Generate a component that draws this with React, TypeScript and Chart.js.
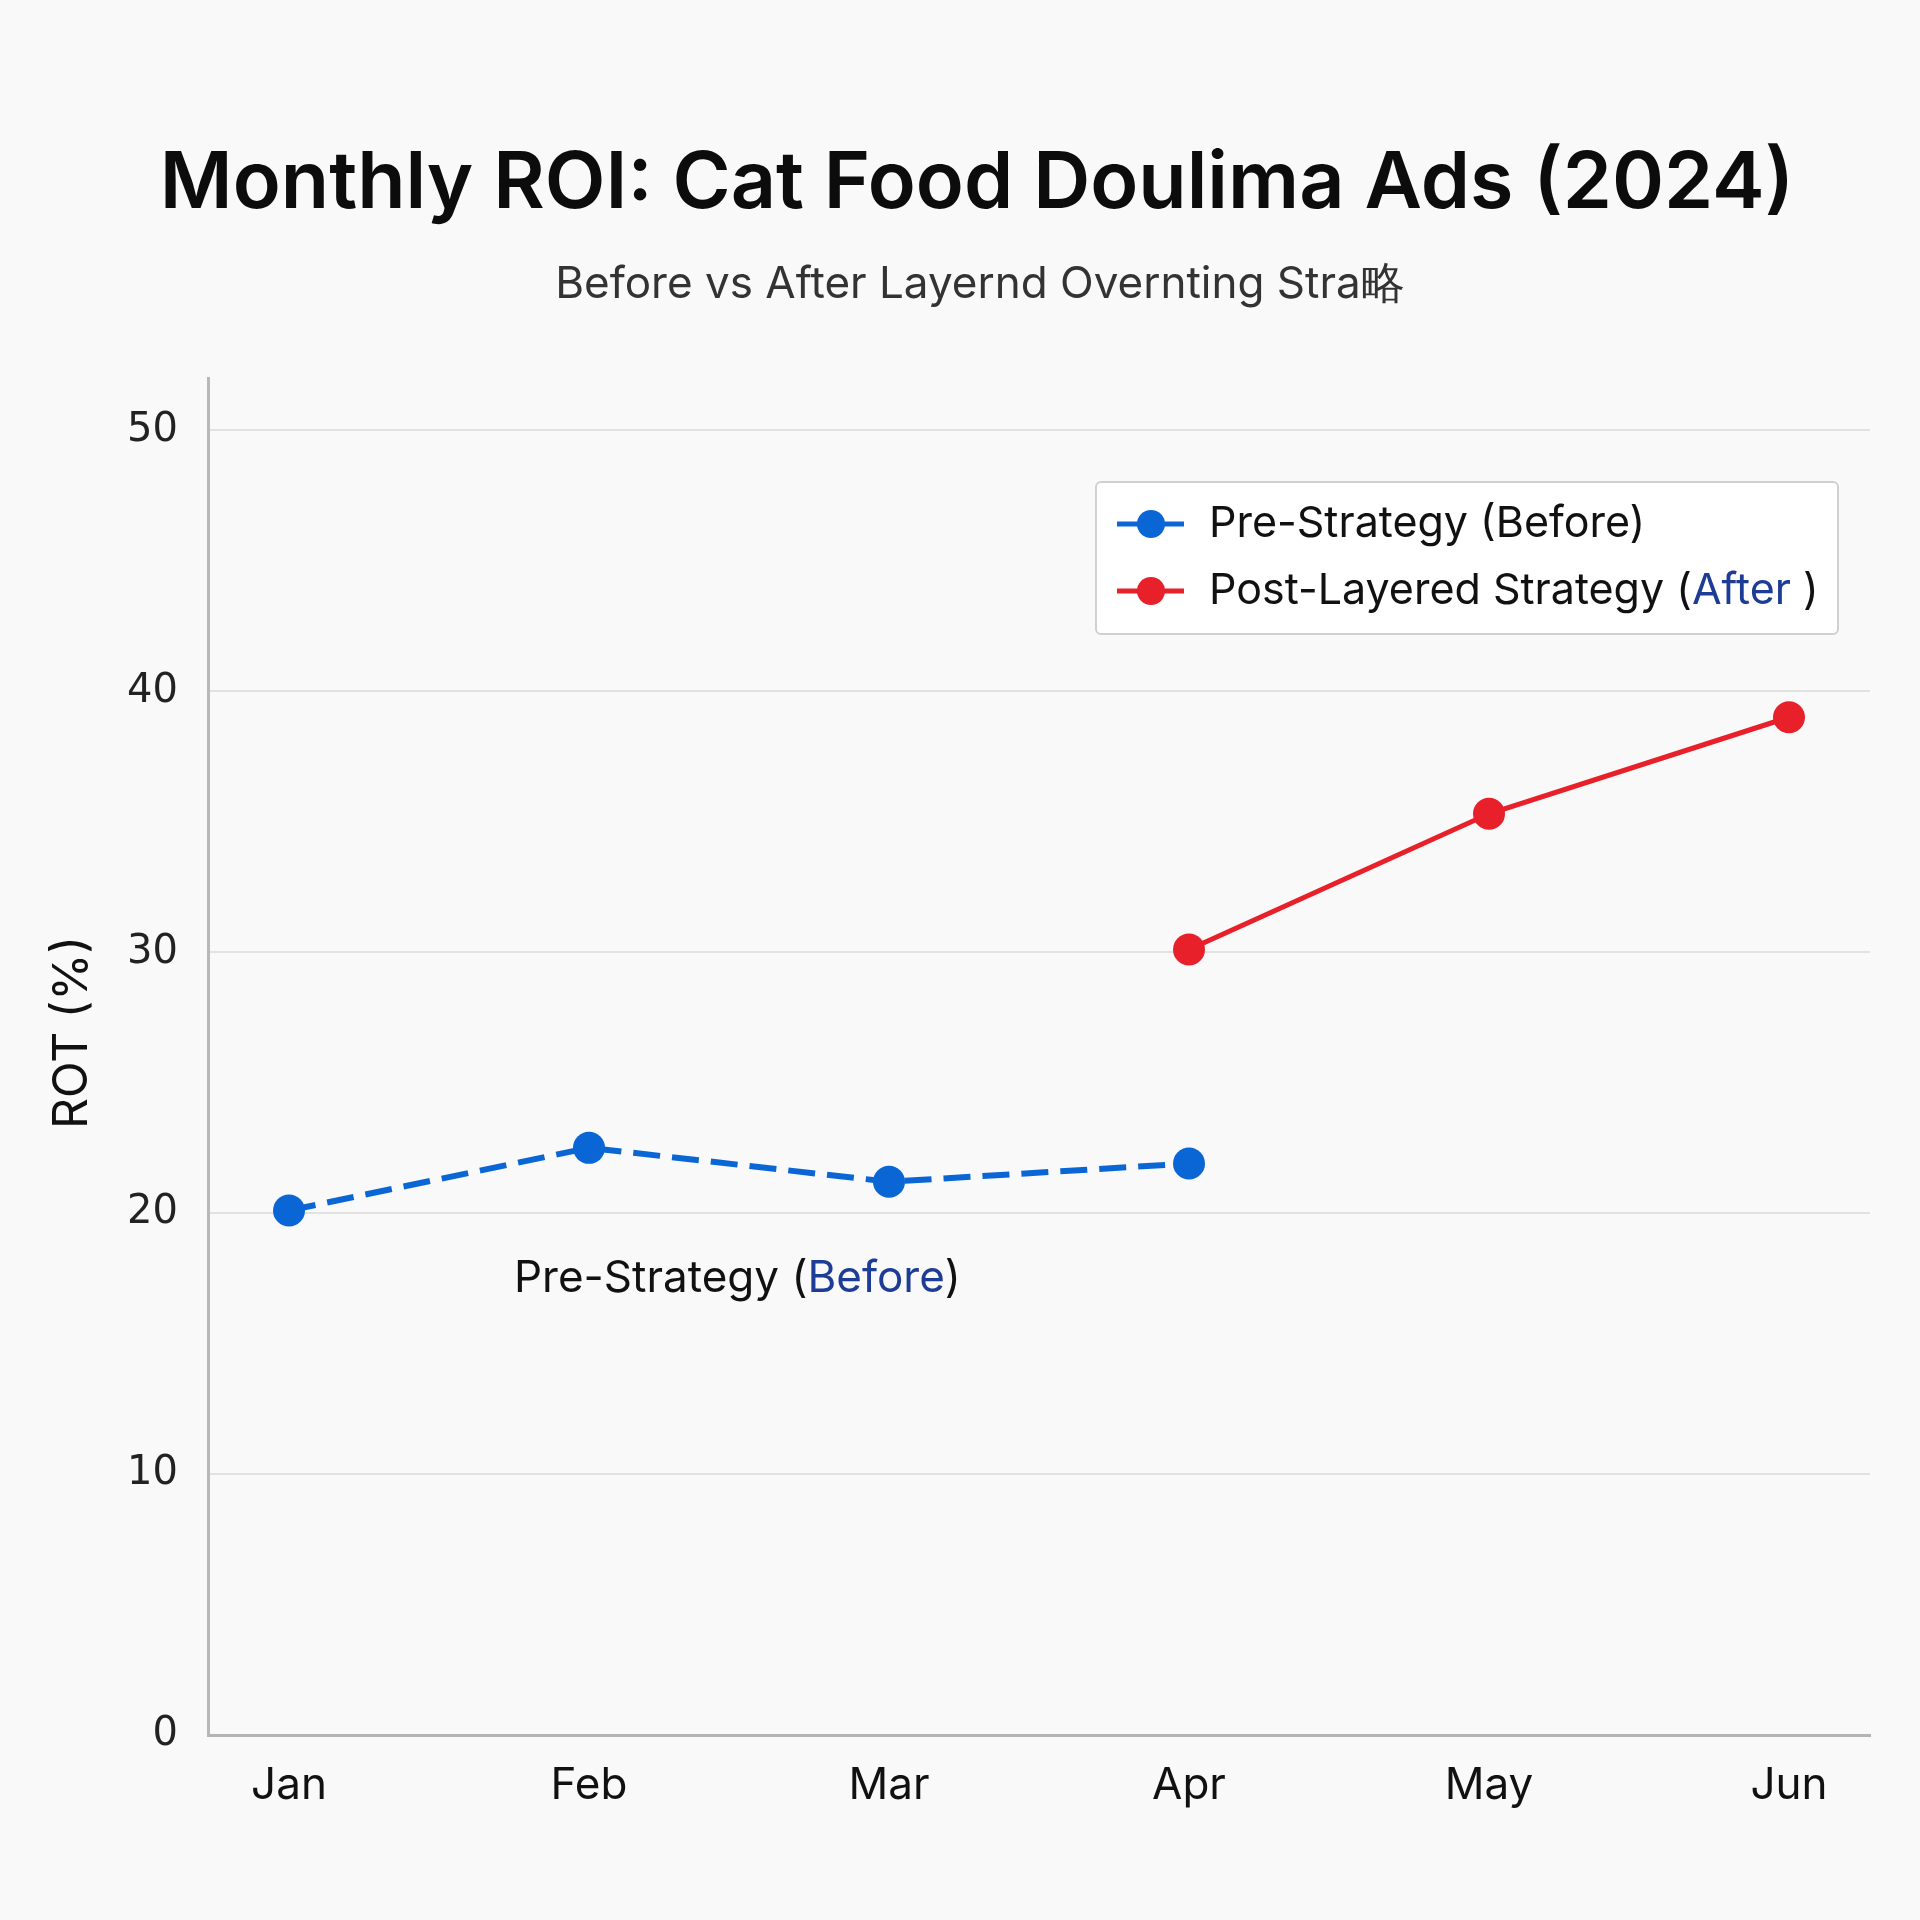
import React, { useEffect, useRef } from "react";
import { Chart, registerables } from "chart.js";

Chart.register(...registerables);

// Monthly ROI (%) before and after the layered strategy
const months = ["Jan", "Feb", "Mar", "Apr", "May", "Jun"];
const preStrategyRoi: (number | null)[] = [20.1, 22.5, 21.2, 21.9, null, null];
const postStrategyRoi: (number | null)[] = [null, null, null, 30.1, 35.3, 39.0];
const yTickValues = [0, 10, 20, 30, 40, 50];

const titleText = "Monthly ROI: Cat Food Doulima Ads (2024)";
const subtitleText = "Before vs After Layernd Overnting Stra略";
const yAxisTitle = "ROT (%)";

const BLUE = "#0a66d4";
const RED = "#e8202a";
const ACCENT_TEXT = "#1d3c96";
const TEXT_FONT = "Inter, 'Noto Sans', sans-serif";

type Segment = { text: string; color: string };

const legendRows: { color: string; segments: Segment[] }[] = [
  {
    color: BLUE,
    segments: [{ text: "Pre-Strategy (Before)", color: "#111" }],
  },
  {
    color: RED,
    segments: [
      { text: "Post-Layered Strategy (", color: "#111" },
      { text: "After", color: ACCENT_TEXT },
      { text: " )", color: "#111" },
    ],
  },
];

const noteSegments: Segment[] = [
  { text: "Pre-Strategy (", color: "#111" },
  { text: "Before", color: ACCENT_TEXT },
  { text: ")", color: "#111" },
];
const notePosition = { x: 0.75, y: 17.5 };

const toPoints = (values: (number | null)[]) =>
  values
    .map((v, i) => (v == null ? null : { x: i, y: v }))
    .filter((p): p is { x: number; y: number } => p !== null);

function drawSegments(ctx: CanvasRenderingContext2D, segs: Segment[], x: number, y: number) {
  let cx = x;
  for (const s of segs) {
    ctx.fillStyle = s.color;
    ctx.fillText(s.text, cx, y);
    cx += ctx.measureText(s.text).width;
  }
}

// Heading, subtitle and rotated y-axis caption
const headingPlugin = {
  id: "roiHeading",
  afterDraw(chart: any) {
    const { ctx, chartArea } = chart;
    ctx.save();
    ctx.textAlign = "center";
    ctx.textBaseline = "middle";
    ctx.fillStyle = "#0c0c0c";
    ctx.font = `600 79px ${TEXT_FONT}`;
    ctx.fillText(titleText, 977, 184);
    ctx.fillStyle = "#333";
    ctx.font = `400 44px ${TEXT_FONT}`;
    ctx.fillText(subtitleText, 980, 285);

    ctx.translate(73, (chartArea.top + chartArea.bottom) / 2 - 24);
    ctx.rotate(-Math.PI / 2);
    ctx.fillStyle = "#111";
    ctx.font = `400 48px ${TEXT_FONT}`;
    ctx.fillText(yAxisTitle, 0, 0);
    ctx.restore();
  },
};

const notePlugin = {
  id: "preStrategyNote",
  afterDatasetsDraw(chart: any) {
    const { ctx, scales } = chart;
    const px = scales.x.getPixelForValue(notePosition.x);
    const py = scales.y.getPixelForValue(notePosition.y);
    ctx.save();
    ctx.font = `400 44px ${TEXT_FONT}`;
    ctx.textBaseline = "middle";
    ctx.textAlign = "left";
    drawSegments(ctx, noteSegments, px, py);
    ctx.restore();
  },
};

const legendPlugin = {
  id: "roiLegend",
  afterDraw(chart: any) {
    const { ctx, chartArea } = chart;
    const w = 742;
    const h = 152;
    const right = chartArea.right - 32;
    const left = right - w;
    const top = chartArea.top + 104;
    ctx.save();
    ctx.beginPath();
    ctx.roundRect(left, top, w, h, 5);
    ctx.fillStyle = "rgba(255,255,255,0.92)";
    ctx.fill();
    ctx.lineWidth = 2;
    ctx.strokeStyle = "#d0d0d0";
    ctx.stroke();

    legendRows.forEach((row, i) => {
      const cy = top + 42 + i * 67;
      ctx.beginPath();
      ctx.moveTo(left + 21, cy);
      ctx.lineTo(left + 88, cy);
      ctx.lineWidth = 5;
      ctx.strokeStyle = row.color;
      ctx.stroke();
      ctx.beginPath();
      ctx.arc(left + 55, cy, 14, 0, Math.PI * 2);
      ctx.fillStyle = row.color;
      ctx.fill();

      ctx.font = `400 43px ${TEXT_FONT}`;
      ctx.textBaseline = "middle";
      ctx.textAlign = "left";
      drawSegments(ctx, row.segments, left + 113, cy);
    });
    ctx.restore();
  },
};

export default function App() {
  const canvasRef = useRef<HTMLCanvasElement | null>(null);

  useEffect(() => {
    if (!canvasRef.current) return;
    const chart = new Chart(canvasRef.current, {
      type: "line",
      data: {
        datasets: [
          {
            label: "Pre-Strategy (Before)",
            data: toPoints(preStrategyRoi),
            borderColor: BLUE,
            backgroundColor: BLUE,
            borderWidth: 6,
            borderDash: [27, 12],
            pointRadius: 16,
            pointBorderWidth: 0,
            pointBackgroundColor: BLUE,
            tension: 0,
          },
          {
            label: "Post-Layered Strategy (After)",
            data: toPoints(postStrategyRoi),
            borderColor: RED,
            backgroundColor: RED,
            borderWidth: 5,
            pointRadius: 16,
            pointBorderWidth: 0,
            pointBackgroundColor: RED,
            tension: 0,
          },
        ],
      },
      options: {
        animation: false,
        responsive: false,
        devicePixelRatio: 1,
        layout: { padding: { left: 0, right: 50, top: 378, bottom: 0 } },
        plugins: {
          legend: { display: false },
          tooltip: { enabled: false },
          title: { display: false },
        },
        scales: {
          x: {
            type: "linear",
            min: -0.27,
            max: 5.27,
            afterBuildTicks: (scale: any) => {
              scale.ticks = months.map((_, i) => ({ value: i }));
            },
            afterFit: (scale: any) => {
              scale.height = 185;
            },
            ticks: {
              callback: (v: any) => months[v] ?? "",
              color: "#111",
              font: { family: TEXT_FONT, size: 44 },
              padding: 24,
              maxRotation: 0,
              autoSkip: false,
            },
            grid: { color: "rgba(0,0,0,0)", drawTicks: false },
            border: { display: true, color: "#b4b4b4", width: 3 },
          },
          y: {
            min: 0,
            max: 52,
            afterBuildTicks: (scale: any) => {
              scale.ticks = yTickValues.map((v) => ({ value: v }));
            },
            afterFit: (scale: any) => {
              scale.width = 208;
            },
            ticks: {
              color: "#222",
              font: { family: "'DejaVu Sans', sans-serif", size: 40 },
              padding: 30,
            },
            grid: { color: "#e2e2e2", lineWidth: 2, drawTicks: false },
            border: { display: true, color: "#b8b8b8", width: 3 },
          },
        },
      },
      plugins: [notePlugin, legendPlugin, headingPlugin],
    } as any);
    return () => chart.destroy();
  }, []);

  return (
    <div
      style={{
        position: "fixed",
        left: 0,
        top: 0,
        width: 1920,
        height: 1920,
        background: "#f9f9f9",
      }}
    >
      <canvas ref={canvasRef} width={1920} height={1920} />
    </div>
  );
}
